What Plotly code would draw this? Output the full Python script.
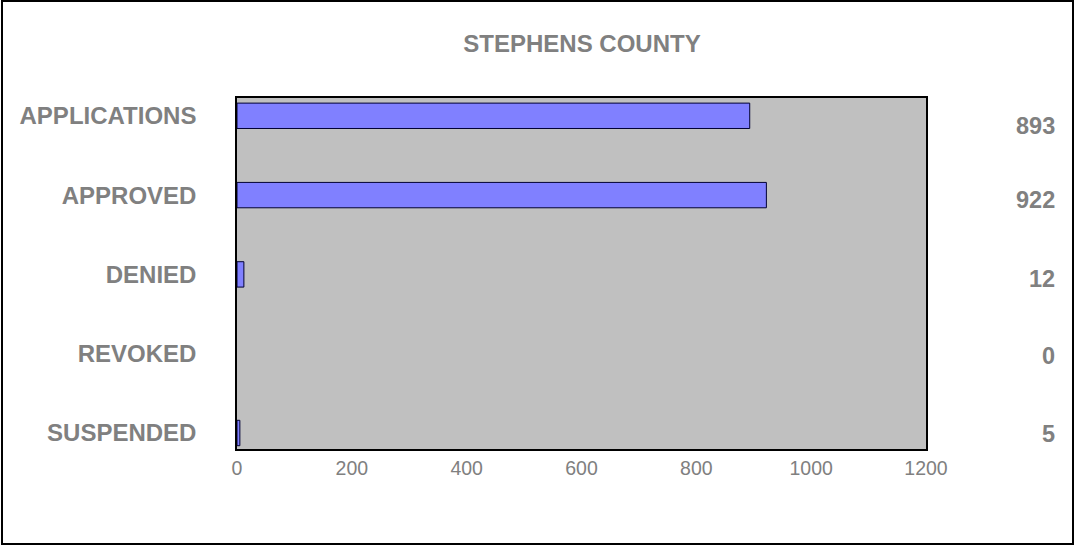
import plotly.graph_objects as go

# ---- data ----
categories = ["APPLICATIONS", "APPROVED", "DENIED", "REVOKED", "SUSPENDED"]
counts = [893, 922, 12, 0, 5]
x_tick_values = [0, 200, 400, 600, 800, 1000, 1200]
x_tick_labels = ["0", "200", "400", "600", "800", "1000", "1200"]
title_text = "STEPHENS COUNTY"

# ---- styling ----
W, H = 1075, 546
L, R, T, B = 237, 1075 - 926, 98, 546 - 449
PW, PH = W - L - R, H - T - B
GRAY = "#808080"
FONT = "Arial, Liberation Sans, sans-serif"
value_yshift = [-10, -5, -5, -2, -1]
bar_outline_width = [1 if v > 0 else 0 for v in counts]


def px_to_paper_x(px):
    return (px - L) / PW


def px_to_paper_y(py):
    return (H - B - py) / PH


fig = go.Figure()
fig.add_trace(go.Bar(
    y=categories,
    x=counts,
    orientation="h",
    width=0.32,
    marker=dict(color="#8080FF", line=dict(color="#000033", width=bar_outline_width)),
    hoverinfo="x+y",
))

annotations = []
for cat, v, ys in zip(categories, counts, value_yshift):
    annotations.append(dict(
        x=px_to_paper_x(1057), xref="paper", xanchor="right",
        y=cat, yref="y", yanchor="middle", yshift=ys,
        text=str(v), showarrow=False,
        font=dict(family=FONT, size=23.5, color=GRAY, weight="bold"),
    ))

fig.update_layout(
    width=W, height=H,
    margin=dict(l=L, r=R, t=T, b=B, pad=0),
    paper_bgcolor="white",
    plot_bgcolor="#C0C0C0",
    showlegend=False,
    title=dict(
        text="<b>" + title_text + "</b>",
        x=px_to_paper_x(582), xref="paper", xanchor="center",
        y=1 - 44 / H, yref="container", yanchor="middle",
        font=dict(family=FONT, size=24, color=GRAY),
    ),
    xaxis=dict(
        range=[0, 1200],
        tickvals=x_tick_values, ticktext=x_tick_labels,
        showgrid=False, zeroline=False,
        showline=True, mirror=True, linecolor="black", linewidth=1.5,
        ticks="", ticklabelstandoff=1,
        tickfont=dict(family=FONT, size=19.5, color=GRAY),
        fixedrange=True,
    ),
    yaxis=dict(
        type="category",
        categoryorder="array", categoryarray=categories,
        range=[4.2018, -0.2245],
        showgrid=False, zeroline=False,
        showline=True, mirror=True, linecolor="black", linewidth=1.5,
        ticks="", ticklabelstandoff=34,
        tickfont=dict(family=FONT, size=24, color=GRAY, weight="bold"),
        fixedrange=True,
    ),
    annotations=annotations,
    shapes=[dict(
        type="rect", xref="paper", yref="paper",
        x0=px_to_paper_x(2), x1=px_to_paper_x(1073),
        y0=px_to_paper_y(544), y1=px_to_paper_y(1),
        line=dict(color="black", width=2), fillcolor="rgba(0,0,0,0)",
        layer="above",
    )],
)

fig.write_html(
    "out.html",
    config={"displayModeBar": False},
    post_script="document.body.style.margin='0';document.body.style.padding='0';",
)
